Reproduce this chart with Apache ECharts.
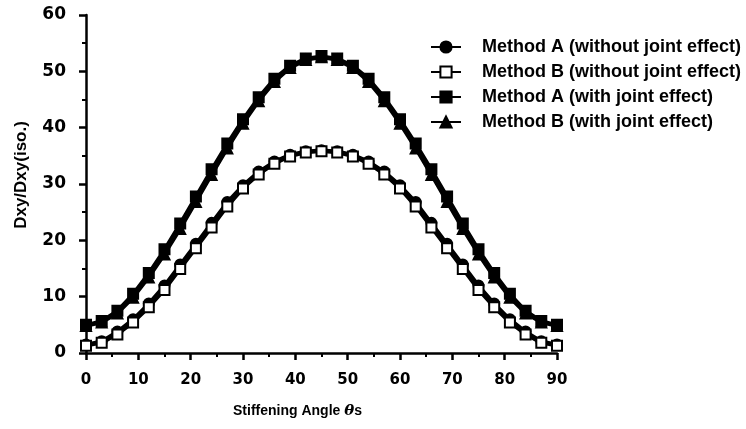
<!DOCTYPE html>
<html>
<head>
<meta charset="utf-8">
<script src="https://cdn.jsdelivr.net/npm/echarts@6/dist/echarts.min.js"></script>
<style>
html, body { margin: 0; padding: 0; background: #fff; }
#chart { width: 746px; height: 429px; }
</style>
</head>
<body>
<div id="chart"></div>
<script>
// stiffening angle (deg), one point every 3 degrees
const angles = [0, 3, 6, 9, 12, 15, 18, 21, 24, 27, 30, 33, 36, 39, 42, 45,
  48, 51, 54, 57, 60, 63, 66, 69, 72, 75, 78, 81, 84, 87, 90];

// Dxy/Dxy(iso.)
const methodANoJoint = [1.5, 2.1, 3.8, 6.0, 8.8, 12.0, 15.7, 19.4, 23.1, 26.8, 29.8, 32.2, 34.0, 35.2, 35.8, 36.0,
  35.8, 35.2, 34.0, 32.2, 29.8, 26.8, 23.1, 19.4, 15.7, 12.0, 8.8, 6.0, 3.8, 2.1, 1.5];
const methodBNoJoint = [1.3, 1.8, 3.3, 5.4, 8.1, 11.2, 14.9, 18.6, 22.3, 26.0, 29.2, 31.7, 33.6, 34.9, 35.6, 35.8,
  35.6, 34.9, 33.6, 31.7, 29.2, 26.0, 22.3, 18.6, 14.9, 11.2, 8.1, 5.4, 3.3, 1.8, 1.3];
const methodAJoint = [5.0, 5.7, 7.5, 10.5, 14.2, 18.4, 23.0, 27.8, 32.6, 37.2, 41.5, 45.4, 48.7, 51.0, 52.3, 52.7,
  52.3, 51.0, 48.7, 45.4, 41.5, 37.2, 32.6, 27.8, 23.0, 18.4, 14.2, 10.5, 7.5, 5.7, 5.0];
const methodBJoint = [4.8, 5.4, 7.0, 9.8, 13.4, 17.5, 22.0, 26.8, 31.6, 36.3, 40.7, 44.7, 48.1, 50.6, 52.0, 52.5,
  52.0, 50.6, 48.1, 44.7, 40.7, 36.3, 31.6, 26.8, 22.0, 17.5, 13.4, 9.8, 7.0, 5.4, 4.8];

const seriesNames = [
  'Method A (without joint effect)',
  'Method B (without joint effect)',
  'Method A (with joint effect)',
  'Method B (with joint effect)'
];

const xTicks = [0, 10, 20, 30, 40, 50, 60, 70, 80, 90];
const yTicks = [0, 10, 20, 30, 40, 50, 60];

const font = 'Liberation Sans';

function pairs (vals) {
  return angles.map((a, i) => [a, vals[i]]);
}

function makeSeries (name, vals, symbol) {
  return {
    name: name,
    type: 'line',
    data: pairs(vals),
    symbol: symbol,
    symbolSize: 10,
    lineStyle: { color: '#000', width: 3.5 },
    itemStyle: { color: '#000', borderColor: '#000', borderWidth: 2 },
    emphasis: { disabled: true },
    animation: false
  };
}

const chart = echarts.init(document.getElementById('chart'));
chart.setOption({
  backgroundColor: '#fff',
  grid: { left: 86, right: 189, top: 15, bottom: 76, containLabel: false },
  legend: {
    orient: 'vertical',
    left: 425,
    top: 33,
    itemWidth: 30,
    itemHeight: 14,
    itemGap: 7,
    textStyle: {
      color: '#000',
      fontFamily: font,
      fontWeight: 'bold',
      fontSize: 18,
      padding: [0, 0, 0, 16]
    },
    data: seriesNames
  },
  xAxis: {
    type: 'value',
    min: 0,
    max: 90,
    interval: 10,
    name: '{a|Stiffening Angle }{b|θ}{a|s}',
    nameLocation: 'middle',
    nameGap: 51,
    nameTextStyle: {
      padding: [0, 48, 0, 0],
      rich: {
        a: { fontFamily: font, fontWeight: 'bold', fontSize: 14, color: '#000' },
        b: { fontFamily: 'DejaVu Serif', fontStyle: 'italic', fontWeight: 'bold', fontSize: 15, color: '#000' }
      }
    },
    axisLine: { lineStyle: { color: '#000', width: 2.5 } },
    axisTick: { inside: false, length: 7, lineStyle: { color: '#000', width: 2.5 } },
    minorTick: { show: true, splitNumber: 2, length: 4, lineStyle: { color: '#000', width: 2 } },
    splitLine: { show: false },
    axisLabel: {
      margin: 20,
      color: '#000',
      fontFamily: 'DejaVu Sans',
      fontWeight: 'bold',
      fontSize: 15,
      customValues: xTicks
    }
  },
  yAxis: {
    type: 'value',
    min: 0,
    max: 60,
    interval: 10,
    name: 'Dxy/Dxy(iso.)',
    nameLocation: 'middle',
    nameGap: 56,
    nameTextStyle: {
      color: '#000',
      fontFamily: font,
      fontWeight: 'bold',
      fontSize: 17,
      padding: [0, 0, 0, 18]
    },
    axisLine: { show: true, lineStyle: { color: '#000', width: 2.5 } },
    axisTick: { show: true, inside: false, length: 7, lineStyle: { color: '#000', width: 2.5 } },
    minorTick: { show: true, splitNumber: 2, length: 4, lineStyle: { color: '#000', width: 2 } },
    splitLine: { show: false },
    axisLabel: {
      margin: 20,
      color: '#000',
      fontFamily: 'DejaVu Sans',
      fontWeight: 'bold',
      fontSize: 17,
      customValues: yTicks
    }
  },
  series: [
    makeSeries(seriesNames[0], methodANoJoint, 'circle'),
    makeSeries(seriesNames[1], methodBNoJoint, 'emptyRect'),
    makeSeries(seriesNames[2], methodAJoint, 'rect'),
    makeSeries(seriesNames[3], methodBJoint, 'triangle')
  ]
});
</script>
</body>
</html>
